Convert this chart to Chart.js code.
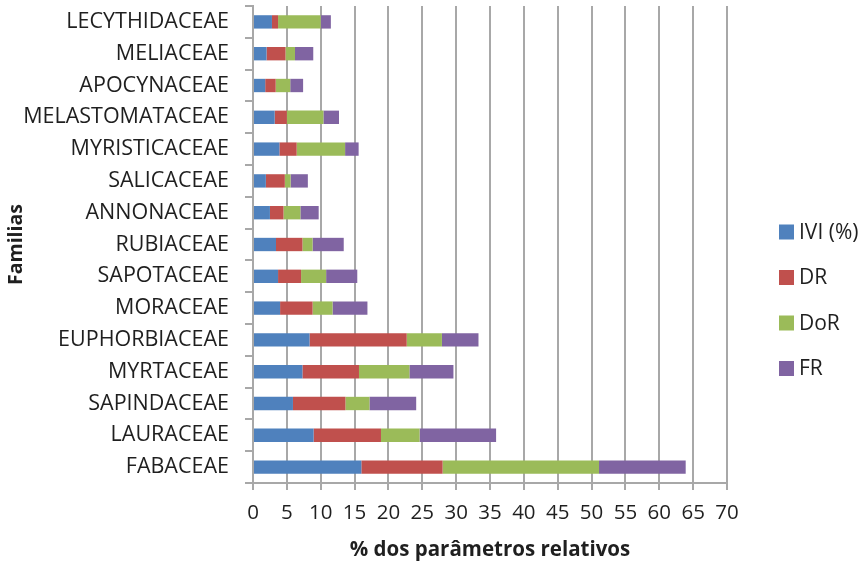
<!DOCTYPE html>
<html>
<head>
<meta charset="utf-8">
<script src="https://cdn.jsdelivr.net/npm/chart.js@4/dist/chart.umd.min.js"></script>
<style>
  html, body { margin: 0; padding: 0; background: #ffffff; }
  #wrap { width: 865px; height: 565px; }
</style>
</head>
<body>
<div id="wrap"><canvas id="chart" width="865" height="565"></canvas></div>
<script>
// Plant families, bottom (largest) to top
const families = [
  "FABACEAE", "LAURACEAE", "SAPINDACEAE", "MYRTACEAE", "EUPHORBIACEAE",
  "MORACEAE", "SAPOTACEAE", "RUBIACEAE", "ANNONACEAE", "SALICACEAE",
  "MYRISTICACEAE", "MELASTOMATACEAE", "APOCYNACEAE", "MELIACEAE", "LECYTHIDACEAE"
];

// Relative parameters (%) per family
const ivi = [16.0, 8.95, 5.9, 7.3, 8.35, 4.0, 3.7, 3.4, 2.5, 1.9, 3.9, 3.2, 1.8, 2.0, 2.8];
const dr  = [12.0, 9.95, 7.75, 8.35, 14.35, 4.8, 3.4, 3.9, 2.0, 2.8, 2.55, 1.8, 1.55, 2.8, 0.9];
const dor = [23.1, 5.7, 3.55, 7.45, 5.2, 2.95, 3.7, 1.5, 2.5, 0.85, 7.15, 5.4, 2.15, 1.4, 6.3];
const fr  = [12.8, 11.3, 6.9, 6.5, 5.4, 5.15, 4.6, 4.6, 2.7, 2.55, 2.0, 2.3, 1.9, 2.7, 1.5];

const seriesNames = ["IVI (%)", "DR", "DoR", "FR"];
const seriesColors = ["#4f81bd", "#c0504d", "#9bbb59", "#8064a2"];

const FONT = "'Open Sans', 'DejaVu Sans', sans-serif";
const TEXT = "#1f1f1f";
const GRID = "#a8a8a8";

// Legend drawn at the right side of the plot
const sideLegend = {
  id: "sideLegend",
  afterDraw(chart) {
    const ctx = chart.ctx;
    const area = chart.chartArea;
    const x = area.right + 52;
    const startY = 232;
    const step = 45.5;
    const box = 15;
    ctx.save();
    ctx.font = "21px " + FONT;
    ctx.textBaseline = "middle";
    ctx.textAlign = "left";
    chart.data.datasets.forEach((ds, i) => {
      const cy = startY + i * step;
      ctx.fillStyle = ds.backgroundColor;
      ctx.fillRect(x, cy - box / 2, box, box);
      ctx.fillStyle = TEXT;
      ctx.fillText(ds.label, x + box + 5, cy + 1);
    });
    ctx.restore();
  }
};

const values = [ivi, dr, dor, fr];

new Chart(document.getElementById("chart"), {
  type: "bar",
  data: {
    labels: families,
    datasets: seriesNames.map((name, i) => ({
      label: name,
      data: values[i],
      backgroundColor: seriesColors[i],
      borderWidth: 0,
      barPercentage: 0.42,
      categoryPercentage: 1.0
    }))
  },
  options: {
    indexAxis: "y",
    responsive: false,
    animation: false,
    layout: { padding: { top: 6, right: 138, bottom: 0, left: 0 } },
    plugins: {
      legend: { display: false },
      tooltip: { enabled: false }
    },
    scales: {
      x: {
        stacked: true,
        min: 0,
        max: 70,
        ticks: {
          stepSize: 5,
          padding: 11,
          color: TEXT,
          font: { family: FONT, size: 20.5 }
        },
        grid: { color: GRID, lineWidth: 2, tickLength: 7 },
        border: { color: GRID, width: 2 },
        title: {
          display: true,
          text: "% dos parâmetros relativos",
          color: TEXT,
          font: { family: FONT, size: 20.5, weight: "bold" },
          padding: { top: 4, bottom: 3 }
        },
        afterFit(s) { s.height = 82; s.paddingLeft = 0; s.paddingRight = 0; }
      },
      y: {
        stacked: true,
        reverse: true,
        ticks: {
          padding: 16,
          color: TEXT,
          font: { family: FONT, size: 21.5 }
        },
        grid: { drawOnChartArea: false, color: GRID, lineWidth: 2, tickLength: 8 },
        border: { color: GRID, width: 2 },
        title: {
          display: true,
          text: "Familias",
          color: TEXT,
          font: { family: FONT, size: 19.5, weight: "bold" },
          padding: { top: 5, bottom: 4 }
        },
        afterFit(s) { s.width = 253; s.paddingTop = 0; s.paddingBottom = 0; }
      }
    }
  },
  plugins: [sideLegend]
});
</script>
</body>
</html>
